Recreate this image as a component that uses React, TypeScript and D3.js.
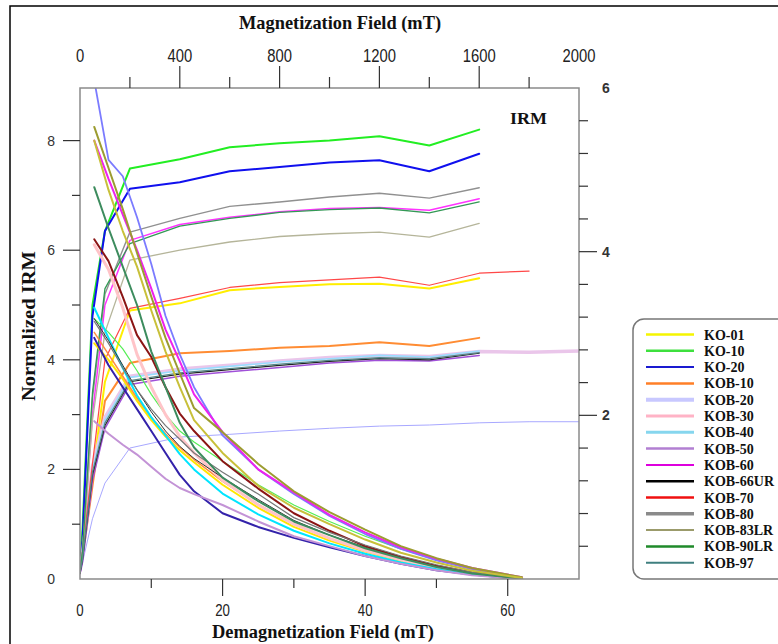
import React from "react";
import * as d3 from "d3";

// ---------- ticks ----------
const topTickLabels = [0, 400, 800, 1200, 1600, 2000];
const topTicksMajor = [400, 800, 1200, 1600];
const topTicksMinor = [200, 600, 1000, 1400, 1800];
const bottomTickLabels = [0, 20, 40, 60];
const bottomTicksMajor = [20, 40, 60];
const bottomTicksMinor = [10, 30, 50];
const leftTickLabels = [0, 2, 4, 6, 8];
const leftTicksMajor = [2, 4, 6, 8];
const leftTicksMinor = [1, 3, 5, 7];
const rightTickLabels = [2, 4, 6];
const rightTicksMajor = [2, 4];
const rightTicksMinor = [0.4, 0.8, 1.2, 1.6, 2.4, 2.8, 3.2, 3.6, 4.4, 4.8, 5.2, 5.6];

// ---------- legend ----------
const sampleNames = [
  "KO-01", "KO-10", "KO-20", "KOB-10", "KOB-20", "KOB-30", "KOB-40", "KOB-50",
  "KOB-60", "KOB-66UR", "KOB-70", "KOB-80", "KOB-83LR", "KOB-90LR", "KOB-97",
];

// ---------- IRM acquisition (top axis, mT) ----------
const irmFields = [0, 10, 50, 100, 200, 400, 600, 800, 1000, 1200, 1400, 1600, 1800, 2000];
const irmKO01 = [0.15, 0.4, 1.9, 3.6, 4.9, 5.03, 5.27, 5.33, 5.38, 5.39, 5.3, 5.49];
const irmKO10 = [0.2, 0.9, 5.0, 6.35, 7.49, 7.66, 7.88, 7.95, 8.0, 8.08, 7.91, 8.2];
const irmKO20 = [0.15, 0.7, 4.8, 6.35, 7.12, 7.24, 7.44, 7.52, 7.6, 7.64, 7.44, 7.76];
const irmKOB10 = [0.2, 0.4, 1.7, 3.25, 3.94, 4.12, 4.16, 4.22, 4.25, 4.32, 4.25, 4.4];
const irmKOB20 = [0.1, 0.3, 1.1, 1.75, 2.39, 2.59, 2.64, 2.7, 2.75, 2.79, 2.81, 2.85, 2.87, 2.87];
const irmKOB30 = [0.15, 0.45, 2.05, 2.95, 3.7, 3.83, 3.9, 3.98, 4.04, 4.08, 4.06, 4.15, 4.14, 4.16];
const irmKOB40 = [0.12, 0.4, 2.0, 2.9, 3.68, 3.8, 3.88, 3.96, 4.02, 4.08, 4.05, 4.16];
const irmKOB50 = [0.1, 0.3, 1.8, 2.75, 3.55, 3.7, 3.78, 3.86, 3.94, 3.99, 3.98, 4.08];
const irmKOB60 = [0.15, 0.45, 3.0, 5.0, 6.18, 6.47, 6.6, 6.7, 6.76, 6.78, 6.73, 6.94];
const irmKOB66UR = [0.1, 0.35, 1.9, 2.8, 3.6, 3.74, 3.82, 3.9, 3.97, 4.02, 4.0, 4.12];
const irmKOB70 = [0.2, 0.5, 2.1, 4.0, 4.94, 5.12, 5.32, 5.41, 5.46, 5.51, 5.36, 5.58, 5.62];
const irmKOB80 = [0.15, 0.5, 3.3, 5.2, 6.33, 6.58, 6.8, 6.88, 6.97, 7.04, 6.95, 7.14];
const irmKOB83LR = [0.15, 0.45, 2.9, 4.5, 5.82, 6.0, 6.15, 6.25, 6.3, 6.33, 6.24, 6.49];
const irmKOB90LR = [0.15, 0.5, 3.4, 5.3, 6.12, 6.44, 6.58, 6.69, 6.74, 6.77, 6.68, 6.88];
const irmKOB97 = [0.12, 0.35, 1.95, 2.85, 3.62, 3.76, 3.84, 3.92, 3.99, 4.04, 4.02, 4.13];

// ---------- AF demagnetization (bottom axis, mT) ----------
const afFields = [2, 4, 6, 8, 10, 12, 14, 16, 20, 25, 30, 35, 40, 45, 50, 55, 62];
const afKO01 = [4.3, 4.0, 3.65, 3.25, 2.9, 2.6, 2.35, 2.13, 1.72, 1.3, 0.95, 0.7, 0.5, 0.33, 0.2, 0.09, 0.0];
const afKO10 = [4.75, 4.5, 4.2, 3.8, 3.37, 3.0, 2.7, 2.5, 2.15, 1.72, 1.35, 1.05, 0.78, 0.55, 0.35, 0.18, 0.03];
const afKO20 = [4.4, 3.9, 3.5, 3.1, 2.7, 2.3, 1.9, 1.6, 1.2, 0.95, 0.75, 0.58, 0.42, 0.28, 0.16, 0.08, 0.0];
const afKOB10 = [4.5, 4.1, 3.7, 3.3, 2.95, 2.65, 2.4, 2.18, 1.78, 1.36, 1.0, 0.74, 0.53, 0.35, 0.21, 0.1, 0.01];
const afKOB20 = [9.1, 7.65, 7.35, 6.6, 5.75, 4.8, 4.1, 3.5, 2.62, 2.0, 1.55, 1.15, 0.82, 0.55, 0.34, 0.18, 0.02];
const afKOB30 = [6.1, 5.65, 4.95, 4.1, 3.5, 3.0, 2.6, 2.3, 1.8, 1.35, 1.0, 0.74, 0.52, 0.35, 0.2, 0.1, 0.01];
const afKOB40 = [4.95, 4.4, 3.85, 3.35, 2.95, 2.62, 2.28, 2.0, 1.56, 1.18, 0.88, 0.65, 0.46, 0.3, 0.18, 0.08, 0.0];
const afKOB50 = [2.88, 2.65, 2.45, 2.27, 2.05, 1.83, 1.66, 1.55, 1.35, 1.05, 0.78, 0.6, 0.42, 0.28, 0.16, 0.07, 0.0];
const afKOB60 = [8.0, 7.3, 6.65, 6.0, 5.3, 4.55, 3.97, 3.37, 2.68, 2.0, 1.58, 1.17, 0.85, 0.58, 0.37, 0.2, 0.03];
const afKOB66UR = [4.75, 4.35, 3.9, 3.45, 3.05, 2.7, 2.42, 2.2, 1.85, 1.45, 1.07, 0.8, 0.58, 0.4, 0.24, 0.11, 0.01];
const afKOB70 = [6.2, 5.8, 5.15, 4.45, 4.05, 3.5, 3.02, 2.7, 2.15, 1.65, 1.2, 0.88, 0.6, 0.4, 0.24, 0.12, 0.01];
const afKOB80 = [4.7, 4.3, 3.85, 3.45, 3.1, 2.8, 2.55, 2.3, 1.95, 1.55, 1.12, 0.85, 0.62, 0.42, 0.26, 0.12, 0.01];
const afKOB83LR = [8.25, 7.5, 6.75, 5.95, 5.15, 4.4, 3.75, 3.12, 2.68, 2.1, 1.6, 1.22, 0.9, 0.6, 0.38, 0.2, 0.03];
const afKOB90LR = [7.15, 6.4, 5.7, 5.0, 4.15, 3.5, 2.85, 2.4, 1.85, 1.42, 1.05, 0.8, 0.56, 0.38, 0.22, 0.1, 0.01];
const afKOB97 = [8.0, 7.1, 6.35, 5.7, 4.9, 4.15, 3.5, 2.9, 2.3, 1.7, 1.3, 1.0, 0.72, 0.48, 0.3, 0.15, 0.02];

const irmSeries = [irmKO01, irmKO10, irmKO20, irmKOB10, irmKOB20, irmKOB30, irmKOB40, irmKOB50,
  irmKOB60, irmKOB66UR, irmKOB70, irmKOB80, irmKOB83LR, irmKOB90LR, irmKOB97];
const afSeries = [afKO01, afKO10, afKO20, afKOB10, afKOB20, afKOB30, afKOB40, afKOB50,
  afKOB60, afKOB66UR, afKOB70, afKOB80, afKOB83LR, afKOB90LR, afKOB97];

// ---------- styles ----------
const legendColors = ["#f5f500", "#3ee03e", "#1a1ad0", "#ff7f27", "#c8c8ff", "#ffb3c6", "#86d6ee",
  "#b27fd2", "#dd00dd", "#000000", "#f01010", "#8a8a8a", "#7a7a3a", "#1f8a2a", "#3f7f7f"];
const legendWidths = [2.5, 2.5, 2, 2.5, 4, 3, 3, 2.5, 2, 2.5, 2.5, 3.5, 1.5, 2.5, 2];
const irmColors = ["#ffee00", "#22ee22", "#1010ee", "#ff8c33", "#a8a8ff", "#eac6ea", "#99ddff",
  "#a050d8", "#ff33ff", "#222222", "#ff4848", "#909090", "#b5b59a", "#339955", "#558888"];
const irmWidths = [2, 2, 2, 2, 1, 3.5, 1.6, 1.5, 1.5, 1.2, 1.2, 1.4, 1.3, 1.3, 1.2];
const afColors = ["#ffe600", "#55ee55", "#3322aa", "#ff9040", "#7b7bff", "#ffc4c8", "#00e5ff",
  "#c393d6", "#ee22ee", "#333333", "#8b1515", "#777777", "#9c9c30", "#3d8c5e", "#c8c03a"];
const afWidths = [2, 1.2, 2, 1.5, 1.8, 3, 2, 2, 2, 1, 2, 1.2, 2, 2, 2];

const W = 778;
const H = 644;
const L = 80, R = 579, T = 88, B = 579;

export default function App() {
  const xBottom = d3.scaleLinear().domain([0, 70]).range([L, R]);
  const xTop = d3.scaleLinear().domain([0, 2000]).range([L, R]);
  const yLeft = d3.scaleLinear().domain([0, 8.96]).range([B, T]);
  const yRight = d3.scaleLinear().domain([0, 6]).range([B, T]);

  const irmLine = d3.line<[number, number]>().x((d) => xTop(d[0])).y((d) => yLeft(d[1]));
  const afLine = d3.line<[number, number]>().x((d) => xBottom(d[0])).y((d) => yLeft(d[1]));

  const tickColor = "#333";
  const condensed = (x: number, y: number, s: string, key: string, size: number) => (
    <text key={key} transform={`translate(${x},${y}) scale(0.78,1)`} textAnchor="middle"
      fontFamily="Liberation Sans, Arial, sans-serif" fontSize={size} fill="#222">{s}</text>
  );

  return (
    <svg width={W} height={H} style={{ position: "absolute", left: 0, top: 0, background: "#fff" }}
      xmlns="http://www.w3.org/2000/svg">
      <rect x={0} y={0} width={W} height={H} fill="#fff" />
      <path d={`M10,${H} V6 H${W}`} fill="none" stroke="#000" strokeWidth={1.5} />
      <defs>
        <clipPath id="plotClip">
          <rect x={L} y={T} width={R - L} height={B - T} />
        </clipPath>
      </defs>

      {/* curves */}
      <g clipPath="url(#plotClip)" fill="none" strokeLinejoin="round" strokeLinecap="round">
        {irmSeries.map((vals, i) => (
          <path key={"irm" + i}
            d={irmLine(vals.map((v, j) => [irmFields[j], v] as [number, number])) || ""}
            stroke={irmColors[i]} strokeWidth={irmWidths[i]} />
        ))}
        {afSeries.map((vals, i) => (
          <path key={"af" + i}
            d={afLine(vals.map((v, j) => [afFields[j], v] as [number, number])) || ""}
            stroke={afColors[i]} strokeWidth={afWidths[i]} />
        ))}
      </g>

      {/* plot frame */}
      <rect x={L} y={T} width={R - L} height={B - T} fill="none" stroke="#8a8a8a" strokeWidth={1.5} />

      {/* top axis */}
      {topTicksMajor.map((v) => (
        <line key={"tM" + v} x1={xTop(v)} x2={xTop(v)} y1={T} y2={T - 22} stroke={tickColor} strokeWidth={1.2} />
      ))}
      {topTicksMinor.map((v) => (
        <line key={"tm" + v} x1={xTop(v)} x2={xTop(v)} y1={T} y2={T - 11} stroke={tickColor} strokeWidth={1.2} />
      ))}
      {topTickLabels.map((v) => condensed(xTop(v), 62, String(v), "tl" + v, 19))}
      <text x={340} y={29} textAnchor="middle" fontFamily="Liberation Serif, Times New Roman, serif"
        fontWeight="bold" fontSize={19} textLength={202} lengthAdjust="spacingAndGlyphs" fill="#111">
        Magnetization Field (mT)
      </text>

      {/* bottom axis */}
      {bottomTicksMajor.map((v) => (
        <line key={"bM" + v} x1={xBottom(v)} x2={xBottom(v)} y1={B} y2={B + 17} stroke={tickColor} strokeWidth={1.2} />
      ))}
      {bottomTicksMinor.map((v) => (
        <line key={"bm" + v} x1={xBottom(v)} x2={xBottom(v)} y1={B} y2={B + 9} stroke={tickColor} strokeWidth={1.2} />
      ))}
      {bottomTickLabels.map((v) => condensed(xBottom(v), 616, String(v), "bl" + v, 17))}
      <text x={323} y={638} textAnchor="middle" fontFamily="Liberation Serif, Times New Roman, serif"
        fontWeight="bold" fontSize={18} textLength={222} lengthAdjust="spacingAndGlyphs" fill="#111">
        Demagnetization Field (mT)
      </text>

      {/* left axis */}
      {leftTicksMajor.map((v) => (
        <line key={"lM" + v} x1={L} x2={L - 17} y1={yLeft(v)} y2={yLeft(v)} stroke={tickColor} strokeWidth={1.2} />
      ))}
      {leftTicksMinor.map((v) => (
        <line key={"lm" + v} x1={L} x2={L - 8} y1={yLeft(v)} y2={yLeft(v)} stroke={tickColor} strokeWidth={1.2} />
      ))}
      {leftTickLabels.map((v) => (
        <text key={"ll" + v} x={55} y={yLeft(v) + 5} textAnchor="end"
          fontFamily="Liberation Sans, Arial, sans-serif" fontSize={14} fill="#333">{v}</text>
      ))}
      <text transform="translate(35,326) rotate(-90)" textAnchor="middle"
        fontFamily="Liberation Serif, Times New Roman, serif" fontWeight="bold" fontSize={19}
        textLength={150} lengthAdjust="spacingAndGlyphs" fill="#111">
        Normalized IRM
      </text>

      {/* right axis */}
      {rightTicksMajor.map((v) => (
        <line key={"rM" + v} x1={R} x2={R + 18} y1={yRight(v)} y2={yRight(v)} stroke={tickColor} strokeWidth={1.2} />
      ))}
      {rightTicksMinor.map((v) => (
        <line key={"rm" + v} x1={R} x2={R + 9} y1={yRight(v)} y2={yRight(v)} stroke={tickColor} strokeWidth={1.2} />
      ))}
      {rightTickLabels.map((v) => (
        <text key={"rl" + v} x={602} y={yRight(v) + 5} textAnchor="start"
          fontFamily="Liberation Sans, Arial, sans-serif" fontWeight="bold" fontSize={14} fill="#333">{v}</text>
      ))}

      {/* IRM label */}
      <text x={510} y={124} fontFamily="Liberation Serif, Times New Roman, serif" fontWeight="bold"
        fontSize={17} textLength={37} lengthAdjust="spacingAndGlyphs" fill="#111">IRM</text>

      {/* legend */}
      <rect x={633} y={319} width={170} height={260} rx={11} ry={11} fill="#fff" stroke="#777" strokeWidth={1.5} />
      {sampleNames.map((name, i) => {
        const cy = 334.5 + i * 16.3;
        return (
          <g key={"lg" + name}>
            <line x1={646} x2={694} y1={cy} y2={cy} stroke={legendColors[i]} strokeWidth={legendWidths[i]} />
            <text x={704} y={cy + 5} fontFamily="Liberation Serif, Times New Roman, serif" fontWeight="bold"
              fontSize={14} fill="#111">{name}</text>
          </g>
        );
      })}
    </svg>
  );
}
